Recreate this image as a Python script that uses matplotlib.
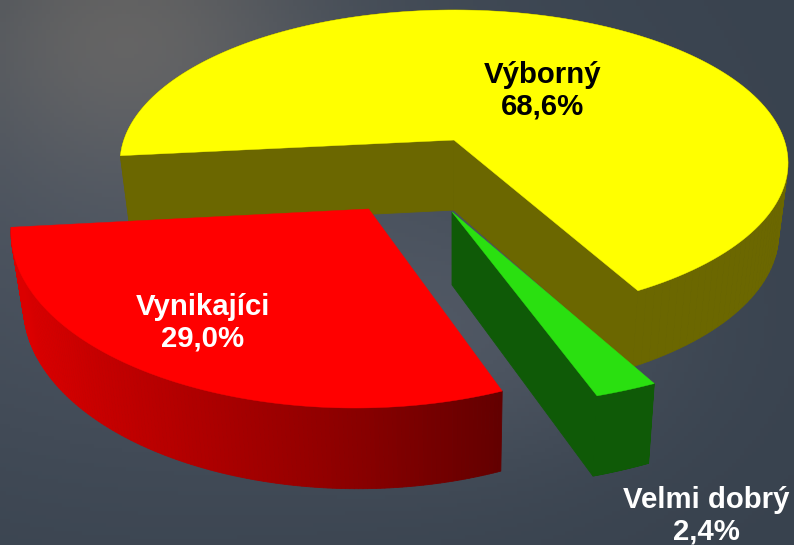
import matplotlib
matplotlib.use("Agg")
import matplotlib.pyplot as plt
import numpy as np

names = ["Výborný", "Velmi dobrý", "Vynikajíci"]
shares = [68.6, 2.4, 29.0]

start_angle = 185.9  # where the yellow slice starts, going clockwise

plt.rcParams['font.family'] = ['Liberation Sans', 'DejaVu Sans']


def rim(angle, disc):
  # perspective view of a circle: moebius shift of the angle, then the ellipse
  z = np.exp(1j*np.radians(angle))
  w = (z + disc['a'])/(1 + np.conj(disc['a'])*z)
  return disc['cx'] + disc['rx']*w.real, disc['cy'] - disc['ry']*w.imag


def centre(disc):
  a = disc['a']
  p = 2*a/(1 + abs(a)**2)
  return disc['cx'] + disc['rx']*p.real, disc['cy'] - disc['ry']*p.imag


def drop(x, y):
  # bottom of the wall under a top point, verticals meet far below the picture
  x = np.asarray(x, dtype=float)
  y = np.asarray(y, dtype=float)
  return 452 + 0.972*(x - 452), y + 70 + 0.04*(y - 140)


def wall(ax, x, y, color):
  bx, by = drop(x, y)
  ax.fill(np.r_[x, bx[::-1]], np.r_[y, by[::-1]], color=color, lw=0.6)


def draw_slice(ax, a0, a1, disc, top, side, faces):
  t = np.linspace(a0, a1, 160)
  x, y = rim(t, disc)
  ax0, ay0 = centre(disc)
  # only the cut faces that look at the viewer
  for i in faces:
    wall(ax, np.array([ax0, x[i]]), np.array([ay0, y[i]]), side)
  for i in range(len(t) - 1):
    c = side if isinstance(side, str) else side((x[i] + x[i+1])/2)
    wall(ax, x[i:i+2], y[i:i+2], c)
  ax.fill(np.r_[ax0, x], np.r_[ay0, y], color=top, lw=0.3)


def red_side(x):
  f = np.clip((x - 20)/480, 0, 1)
  return (np.interp(f, [0, 0.15, 0.7, 1], [0.86, 0.78, 0.54, 0.39]), 0, 0)


fig = plt.figure(figsize=(7.94, 5.45), dpi=100)
ax = fig.add_axes([0, 0, 1, 1])

# background
yy, xx = np.mgrid[0:545:4, 0:794:4]
spot = 30*np.exp(-(((xx - 120)/190)**2 + ((yy - 20)/150)**2))
wide = 20*np.exp(-(((xx - 150)/420)**2 + ((yy - 200)/300)**2))
wide += 14*np.exp(-(((xx - 480)/190)**2 + ((yy - 340)/130)**2))
bg = np.dstack([56 + spot + wide, 66 + 0.7*spot + 0.9*wide, 78 + 0.3*spot + 0.9*wide])
ax.imshow(np.clip(bg, 0, 255).astype(np.uint8), extent=[0, 794, 545, 0],
          interpolation='bilinear', aspect='auto')

yellow_disc = dict(cx=454, cy=163, rx=334, ry=153, a=0.0754j)
green_disc = dict(cx=452, cy=212, rx=418, ry=196, a=0j)
red_disc = dict(cx=355, cy=232, rx=344, ry=176, a=0.02+0.0658j)

edges = start_angle - np.cumsum([0] + [s*3.6 for s in shares])

draw_slice(ax, edges[0], edges[1], yellow_disc, '#ffff00', '#6b6700', [0, -1])
draw_slice(ax, edges[1], edges[2], green_disc, '#2ae010', '#0f5a07', [-1])
draw_slice(ax, edges[2], edges[3], red_disc, '#ff0000', red_side, [])

label_pos = [(543, 91, 'black'), (706, 516, 'white'), (203, 323, 'white')]
for name, share, (lx, ly, col) in zip(names, shares, label_pos):
  txt = f"{name}\n{share:.1f}%".replace('.', ',')
  ax.text(lx, ly, txt, color=col, fontsize=21.2, fontweight='bold',
          ha='center', va='center', linespacing=1.16)

ax.set_xlim(0, 794)
ax.set_ylim(545, 0)
ax.axis('off')
fig.savefig('out.png', dpi=100)
